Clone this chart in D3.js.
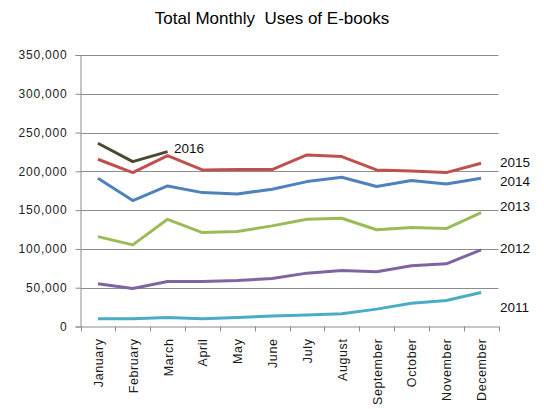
<!DOCTYPE html>
<html>
<head>
<meta charset="utf-8">
<script src="https://cdn.jsdelivr.net/npm/d3@7"></script>
<style>
  body { margin: 0; background: #fff; }
  svg { display: block; font-family: "Liberation Sans", Arial, sans-serif; }
</style>
</head>
<body>
<svg id="chart" width="544" height="409"></svg>
<script>
const months = ["January","February","March","April","May","June","July","August","September","October","November","December"];
const yTicks = [0, 50000, 100000, 150000, 200000, 250000, 300000, 350000];
const seriesNames = ["2011","2012","2013","2014","2015","2016"];
const v2011 = [9900, 9900, 11600, 9900, 11600, 13400, 14700, 16400, 22400, 30100, 33500, 43800];
const v2012 = [55000, 49000, 58000, 58000, 59300, 61800, 68800, 72100, 70500, 78200, 80800, 98800];
const v2013 = [115900, 105200, 138200, 121100, 122400, 129700, 138300, 139600, 124700, 127500, 126200, 146800];
const v2014 = [191100, 162300, 181200, 172600, 170900, 177000, 186800, 192400, 180400, 188100, 183800, 191100];
const v2015 = [215600, 198400, 220200, 201800, 202500, 202300, 221100, 219000, 201800, 200500, 198400, 210400];
const v2016 = [236200, 212500, 225400];
const seriesValues = [v2011, v2012, v2013, v2014, v2015, v2016];
const colors = ["#4bacc6", "#8064a2", "#9bbb59", "#4f81bd", "#c0504d", "#4a4a33"];

(function () {
const svg = d3.select("#chart");
const mLeft = 80.5, mRight = 498.5, mTop = 55, mBottom = 326.5;

const x = d3.scaleBand().domain(months).range([mLeft, mRight]).padding(0);
const y = d3.scaleLinear().domain([0, 350000]).range([mBottom, mTop]);

// title
svg.append("text").attr("x", 272).attr("y", 24).attr("text-anchor", "middle")
  .attr("font-size", 17).attr("fill", "#000").style("white-space", "pre")
  .text("Total Monthly  Uses of E-books");

// gridlines
svg.append("g").selectAll("line").data(yTicks.filter(d => d > 0)).join("line")
  .attr("x1", mLeft).attr("x2", mRight)
  .attr("y1", d => Math.round(y(d)) + 0.5).attr("y2", d => Math.round(y(d)) + 0.5)
  .attr("stroke", "#8c8c8c").attr("stroke-width", 1);

// y axis
const yAxis = svg.append("g").attr("transform", `translate(${mLeft},0)`)
  .call(d3.axisLeft(y).tickValues(yTicks).tickSize(5).tickPadding(8).tickFormat(d3.format(",")));
yAxis.select(".domain").attr("stroke", "#8c8c8c");
yAxis.selectAll(".tick line").attr("stroke", "#8c8c8c");
yAxis.selectAll(".tick text").attr("font-size", 12).attr("fill", "#222")
  .attr("letter-spacing", 0.8).attr("font-family", "Liberation Sans, Arial, sans-serif");

// x axis
const xAxis = svg.append("g").attr("transform", `translate(0,${mBottom})`)
  .call(d3.axisBottom(x).tickSize(0).tickFormat(""));
xAxis.select(".domain").attr("stroke", "#8c8c8c");
const bounds = months.map(m => x(m)).concat([mRight]);
svg.append("g").selectAll("line").data(bounds).join("line")
  .attr("x1", d => Math.round(d) + 0.5).attr("x2", d => Math.round(d) + 0.5)
  .attr("y1", mBottom).attr("y2", mBottom + 5)
  .attr("stroke", "#8c8c8c");

// month labels
svg.append("g").selectAll("text").data(months).join("text")
  .attr("transform", d => `translate(${x(d) + x.bandwidth() / 2 + 5},${mBottom + 12}) rotate(-90)`)
  .attr("text-anchor", "end").attr("font-size", 12.5).attr("letter-spacing", 0.6).attr("fill", "#1a1a1a")
  .text(d => d);

// lines
const line = d3.line().x((d, i) => x(months[i]) + x.bandwidth() / 2).y(d => y(d));
svg.append("g").selectAll("path").data(seriesValues).join("path")
  .attr("d", d => line(d))
  .attr("fill", "none")
  .attr("stroke", (d, i) => colors[i])
  .attr("stroke-width", 3)
  .attr("stroke-linejoin", "round");

// series labels
const labelPos = [
  { x: 500, y: 307 },
  { x: 500, y: 248 },
  { x: 500, y: 206 },
  { x: 500, y: 181 },
  { x: 500, y: 162 },
  { x: 174, y: 148 }
];
svg.append("g").selectAll("text").data(seriesNames).join("text")
  .attr("x", (d, i) => labelPos[i].x).attr("y", (d, i) => labelPos[i].y)
  .attr("dy", "0.35em").attr("font-size", 13.5).attr("fill", "#111")
  .text(d => d);
})();
</script>
</body>
</html>
